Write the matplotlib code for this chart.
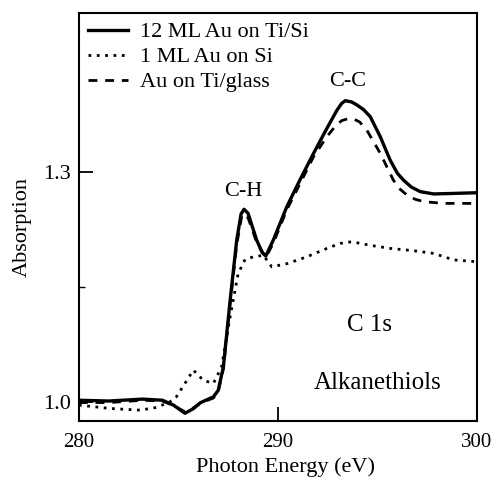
import matplotlib
matplotlib.use('Agg')
import matplotlib.pyplot as plt

plt.rcParams['font.family'] = ['Liberation Serif', 'DejaVu Serif']

# 12 ML Au on Ti/Si
e_12ml = [280.0, 281.5, 283.2, 284.2, 284.75, 285.33, 285.75, 286.1, 286.76, 287.0,
          287.26, 287.6, 287.93, 288.15, 288.3, 288.5, 288.93, 289.2, 289.39, 289.77,
          290.44, 291.1, 291.79, 292.46, 292.96, 293.2, 293.38, 293.7, 293.97, 294.3,
          294.64, 295.14, 295.64, 296.0, 296.31, 296.7, 297.15, 297.82, 298.83, 300.0]
a_12ml = [1.002, 1.001, 1.0035, 1.002, 0.9957, 0.985, 0.991, 0.9987, 1.0065, 1.015,
          1.0457, 1.1326, 1.211, 1.245, 1.251, 1.2457, 1.211, 1.195, 1.19, 1.211,
          1.254, 1.289, 1.324, 1.3565, 1.380, 1.389, 1.3926, 1.391, 1.387, 1.381,
          1.3717, 1.3457, 1.315, 1.298, 1.289, 1.280, 1.274, 1.271, 1.2717, 1.2726]

# 1 ML Au on Si
e_1ml = [280.0, 281.56, 283.07, 283.9, 284.58, 284.9, 285.33, 285.75, 286.25, 286.76,
         287.17, 287.6, 288.0, 288.35, 288.77, 289.27, 289.69, 290.44, 291.45, 292.46,
         293.13, 293.71, 294.64, 295.64, 296.81, 297.82, 298.83, 300.0]
a_1ml = [0.9957, 0.9913, 0.9891, 0.9926, 1.0, 1.0065, 1.024, 1.0413, 1.028, 1.024,
         1.0457, 1.111, 1.167, 1.1857, 1.189, 1.191, 1.176, 1.18, 1.189, 1.2,
         1.2065, 1.2087, 1.204, 1.2, 1.197, 1.1935, 1.185, 1.1826]

# Au on Ti/glass
e_glass = [280.0, 281.5, 283.2, 284.2, 284.75, 285.33, 285.75, 286.1, 286.76, 287.0,
           287.26, 287.6, 287.93, 288.2, 288.5, 288.93, 289.39, 289.77, 290.44, 291.1,
           291.79, 292.46, 292.9, 293.2, 293.5, 293.8, 294.1, 294.47, 295.14, 295.8,
           296.1, 296.48, 296.9, 297.32, 298.3, 300.0]
a_glass = [0.999, 0.999, 1.002, 1.001, 0.995, 0.987, 0.992, 0.998, 1.005, 1.013,
           1.043, 1.128, 1.205, 1.245, 1.240, 1.208, 1.188, 1.207, 1.250, 1.284,
           1.3196, 1.3457, 1.360, 1.3665, 1.369, 1.3687, 1.365, 1.354, 1.324, 1.289,
           1.278, 1.2696, 1.264, 1.261, 1.2587, 1.2587]

fig = plt.figure(figsize=(4.93, 4.80), dpi=100)
ax = fig.add_axes([0.160, 0.123, 0.8075, 0.850])

ax.plot(e_12ml, a_12ml, color='black', lw=2.4, ls='-', label='12 ML Au on Ti/Si')
ax.plot(e_1ml, a_1ml, color='black', lw=2.0, ls=(0, (1, 2.0)), label='1 ML Au on Si')
ax.plot(e_glass, a_glass, color='black', lw=2.0, ls=(0, (3.2, 2.8)), label='Au on Ti/glass')

ax.set_xlim(280, 300)
ax.set_ylim(0.975, 1.507)
ax.set_xticks([280, 290, 300])
ax.set_yticks([1.0, 1.3])
ax.set_yticklabels(['1.0', '1.3'])
ax.set_yticks([1.15], minor=True)
ax.tick_params(axis='both', which='major', direction='in', length=10, width=1.3,
               top=False, right=False)
ax.tick_params(axis='x', labelsize=15, pad=9)
ax.tick_params(axis='y', labelsize=16, pad=6)
ax.tick_params(axis='y', which='minor', direction='in', length=4, width=1.0)
for s in ax.spines.values():
    s.set_linewidth(1.5)

ax.set_xlabel('Photon Energy (eV)', fontsize=16)
ax.set_ylabel('Absorption', fontsize=16)
ax.xaxis.set_label_coords(0.52, -0.088)
ax.yaxis.set_label_coords(-0.118, 0.475)

ax.text(288.26, 1.274, 'C-H', ha='center', va='center', fontsize=16)
ax.text(293.5, 1.417, 'C-C', ha='center', va='center', fontsize=16)
ax.text(294.6, 1.10, 'C 1s', ha='center', va='center', fontsize=18)
ax.text(295.0, 1.024, 'Alkanethiols', ha='center', va='center', fontsize=18)

ax.legend(loc='upper left', frameon=False, fontsize=16, handlelength=1.8,
          handletextpad=0.55, labelspacing=0.2, borderaxespad=0.2,
          borderpad=0.2)

fig.savefig('out.png', dpi=100)
